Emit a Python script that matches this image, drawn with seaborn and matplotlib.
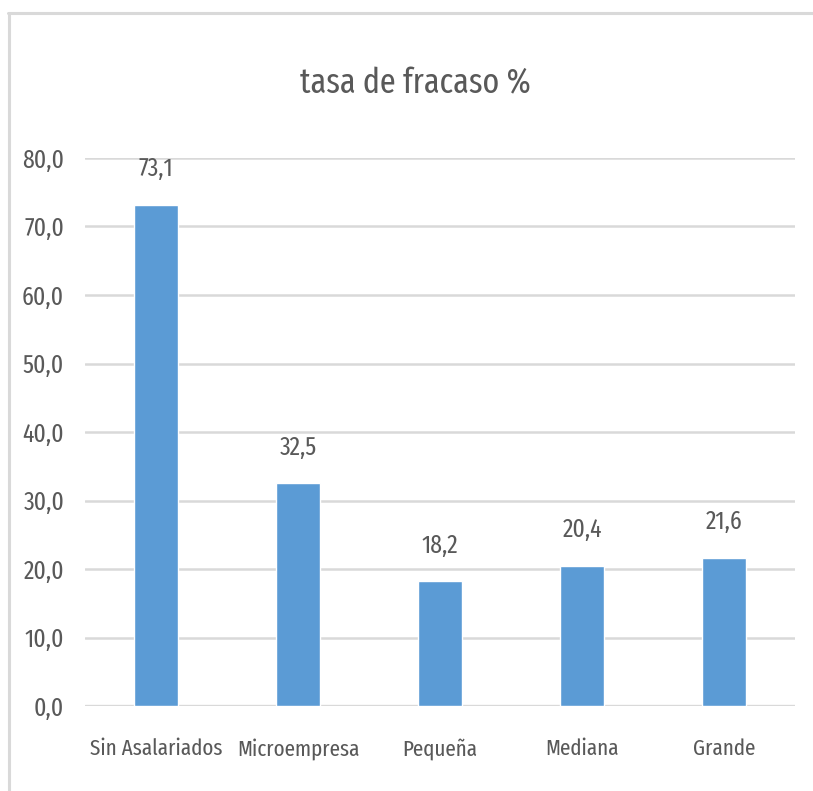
import matplotlib
matplotlib.use("Agg")
import matplotlib.pyplot as plt
from matplotlib.lines import Line2D
import seaborn as sns
import pandas as pd

categories = ["Sin Asalariados", "Microempresa", "Pequeña", "Mediana", "Grande"]
values = [73.1, 32.5, 18.2, 20.4, 21.6]
yticks = [0, 10, 20, 30, 40, 50, 60, 70, 80]
title = "tasa de fracaso %"

sns.set_style("white")
plt.rcParams['font.family'] = ['Fira Sans Extra Condensed', 'DejaVu Sans']
plt.rcParams['font.weight'] = 'normal'

df = pd.DataFrame({"cat": categories, "val": values})

fig = plt.figure(figsize=(8.13, 7.91), dpi=100)
ax = fig.add_axes([85/813, 1-706/791, 710/813, (706-158)/791])

sns.barplot(data=df, x="cat", y="val", color="#5B9BD5", saturation=1, width=0.31, ax=ax)

txt = "#595959"
fs = 18.5
ax.set_ylim(0, 80)
ax.set_yticks(yticks)
ax.set_yticklabels([f"{v:.1f}".replace(".", ",") for v in yticks], fontsize=fs, color=txt)
ax.tick_params(axis="y", length=0, pad=15)
ax.tick_params(axis="x", length=0, pad=23, labelsize=16.5, labelcolor=txt)
ax.set_xlabel("")
ax.set_ylabel("")
for s in ax.spines.values():
    s.set_visible(False)
ax.grid(axis="y", color="#D9D9D9", linewidth=1.8)
ax.set_axisbelow(True)
ax.axhline(0, color="#D9D9D9", linewidth=2.4, zorder=0.5)

for c in ax.containers:
    ax.bar_label(c, labels=[f"{v:.1f}".replace(".", ",") for v in values],
                 padding=17, fontsize=fs, color=txt)

fig.text(415/813, 1-83/791, title, ha="center", va="center", fontsize=25, color=txt)

fig.add_artist(Line2D([8/813, 1], [1-13/791, 1-13/791], color="#D9D9D9", linewidth=2.2, transform=fig.transFigure))
fig.add_artist(Line2D([9/813, 9/813], [0, 1-13/791], color="#D9D9D9", linewidth=2.2, transform=fig.transFigure))

fig.savefig("out.png", dpi=100)
